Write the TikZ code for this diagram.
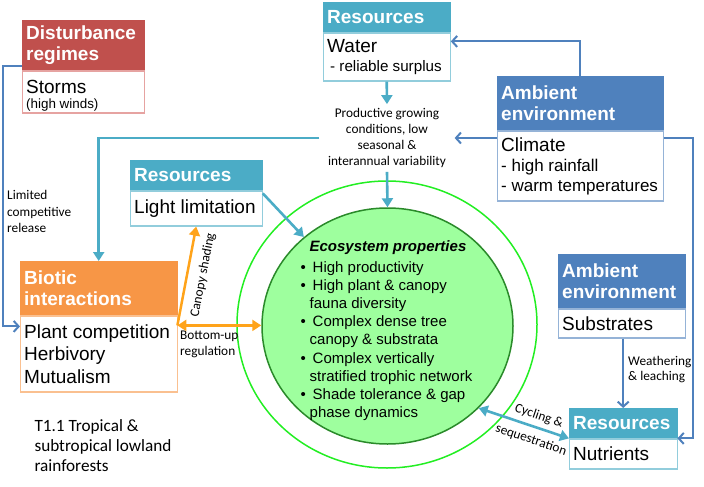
\documentclass[tikz,border=0pt]{standalone}
\usepackage{fontspec}
\setmainfont{Liberation Sans}
\newfontfamily\calib{Carlito}
\usepackage{xcolor}
\usetikzlibrary{arrows.meta,positioning,shapes.geometric,calc}

\definecolor{distred}{HTML}{C0504D}
\definecolor{distredl}{HTML}{E6A3A1}
\definecolor{rescyan}{HTML}{4BACC6}
\definecolor{rescyanl}{HTML}{92CDDC}
\definecolor{ambblue}{HTML}{4F81BD}
\definecolor{ambbluel}{HTML}{95B3D7}
\definecolor{bioorange}{HTML}{F79646}
\definecolor{bioorangel}{HTML}{FAC090}
\definecolor{arrorange}{HTML}{FFA31A}
\definecolor{ecofill}{HTML}{9EFF9E}
\definecolor{ecoline}{HTML}{2A8A2A}
\definecolor{ringline}{HTML}{22EE22}

\tikzset{
  hdr/.style={fill=#1, draw=#1, text=white, font=\fontsize{19}{21}\selectfont\bfseries,
    align=flush left, anchor=north west, inner xsep=4pt, inner ysep=0pt},
  bdy/.style={draw=#1, line width=1.2pt, fill=white, font=\fontsize{19}{22}\selectfont,
    align=flush left, inner xsep=4pt, inner ysep=0pt},
  lbl/.style={font=\calib\fontsize{13.3}{16}\selectfont, inner sep=1pt},
  cyarr/.style={draw=rescyan, line width=2.6pt, -{Triangle[length=9pt,width=11pt]}},
  cyarrr/.style={draw=rescyan, line width=2.6pt, {Triangle[length=9pt,width=11pt]}-{Triangle[length=9pt,width=11pt]}},
  bluarr/.style={draw=ambblue, line width=2pt, -{Straight Barb[length=5pt,width=11pt]}},
  orarr/.style={draw=arrorange, line width=2.5pt, -{Triangle[length=9pt,width=11pt]}},
  orarrr/.style={draw=arrorange, line width=2.5pt, {Triangle[length=9pt,width=11pt]}-{Triangle[length=9pt,width=11pt]}},
}

\begin{document}
\begin{tikzpicture}[x=1pt, y=-1pt]
  \useasboundingbox (0,0) rectangle (704,487);

  % Ecosystem core
  \node[ellipse, draw=ringline, line width=1.5pt, minimum width=300pt, minimum height=287pt] (ring) at (387,324.5) {};
  \node[ellipse, draw=ecoline, fill=ecofill, line width=1.5pt, minimum width=251pt, minimum height=236pt] (eco) at (387.5,326) {};
  \node[font=\fontsize{15}{18}\selectfont\bfseries\itshape] (ecoh) at (388,248) {Ecosystem properties};
  \node[font=\fontsize{15}{18.2}\selectfont, align=flush left, inner sep=0pt, anchor=north] (ecol) at (386.5,261) {%
    \makebox[12pt][l]{\textbullet}High productivity\\
    \makebox[12pt][l]{\textbullet}High plant \& canopy\\
    \hspace*{9pt}fauna diversity\\
    \makebox[12pt][l]{\textbullet}Complex dense tree\\
    \hspace*{9pt}canopy \& substrata\\
    \makebox[12pt][l]{\textbullet}Complex vertically\\
    \hspace*{9pt}stratified trophic network\\
    \makebox[12pt][l]{\textbullet}Shade tolerance \& gap\\
    \hspace*{9pt}phase dynamics};

  % Boxes
  \node[hdr=distred, text width=114pt, minimum height=50pt] (dist) at (22,20) {Disturbance\\regimes};
  \node[bdy=distredl, text width=114pt, minimum height=42pt, below=0pt of dist, font=\fontsize{19}{15}\selectfont] (distb)
    {\rule{0pt}{20pt}Storms\\\fontsize{13.4}{15}\selectfont(high winds)};

  \node[hdr=rescyan, text width=119pt, minimum height=30pt] (water) at (323,2) {Resources};
  \node[bdy=rescyanl, text width=119pt, minimum height=48pt, below=0pt of water, font=\fontsize{19}{19}\selectfont] (waterb)
    {Water\\\fontsize{15.2}{19}\selectfont\hspace*{3pt}- reliable surplus};

  \node[hdr=ambblue, text width=158pt, minimum height=54pt] (clim) at (497,76) {Ambient\\environment};
  \node[bdy=ambbluel, text width=158pt, minimum height=70pt, below=0pt of clim, font=\fontsize{19}{20}\selectfont] (climb)
    {Climate\\\fontsize{17}{20}\selectfont- high rainfall\\- warm temperatures};

  \node[hdr=rescyan, text width=124pt, minimum height=30pt] (light) at (130,160) {Resources};
  \node[bdy=rescyanl, text width=124pt, minimum height=35pt, below=0pt of light] (lightb) {Light limitation};

  \node[hdr=bioorange, text width=149pt, minimum height=54pt] (bio) at (20,261) {Biotic\\interactions};
  \node[bdy=bioorangel, text width=149pt, minimum height=76pt, below=0pt of bio, font=\fontsize{19}{22.5}\selectfont] (biob)
    {Plant competition\\Herbivory\\Mutualism};

  \node[hdr=ambblue, text width=119pt, minimum height=54pt] (sub) at (558,254) {Ambient\\environment};
  \node[bdy=ambbluel, text width=119pt, minimum height=29pt, below=0pt of sub] (subb) {Substrates};

  \node[hdr=rescyan, text width=100pt, minimum height=30pt] (nut) at (569,408) {Resources};
  \node[bdy=rescyanl, text width=100pt, minimum height=30pt, below=0pt of nut] (nutb) {Nutrients};

  % Labels
  \node[lbl, align=flush center, inner xsep=8.5pt, inner ysep=4pt] (prod) at (387,138)
    {Productive growing\\conditions, low\\seasonal \&\\interannual variability};
  \node[lbl, align=flush left, anchor=west, font=\calib\fontsize{13.3}{16.5}\selectfont] (lim) at (6,211.5) {Limited\\competitive\\release};
  \node[lbl, align=flush left, anchor=north west] (bul) at (179,330) {Bottom-up\\regulation};
  \node[lbl, align=flush left, anchor=west, font=\calib\fontsize{13.3}{15}\selectfont] (wea) at (627,369.5) {Weathering\\\& leaching};
  \node[lbl, rotate=79] (can) at (203,275) {Canopy shading};
  \node[lbl, rotate=-18.8] (cyc) at (539,416) {Cycling \&};
  \node[lbl, rotate=-18.8] (seq) at (531,440) {sequestration};
  \node[font=\calib\fontsize{17.2}{20}\selectfont, align=flush left, anchor=west] (title) at (31,446)
    {T1.1 Tropical \&\\subtropical lowland\\rainforests};

  % Connectors
  \draw[cyarr] (waterb.south) -- (prod.north);
  \draw[cyarr] (prod.south) -- (eco.north);
  \draw[cyarr] (prod.west) -| (bio.north);
  \draw[cyarr] ([yshift=-3pt]lightb.north east) -- (eco);
  \draw[bluarr] (climb.west |- prod.east) -- (prod.east);
  \draw[bluarr] (clim.north) |- ([yshift=-9pt]waterb.north east);
  \draw[bluarr] (climb.east |- prod.east) -| ([xshift=16pt]nut.south east) -- (nut.south east);
  \draw[bluarr] ([yshift=4pt]dist.south west) -- ++(-19,0) |- ([yshift=-11pt]bio.south west);
  \draw[bluarr] (nut.north |- subb.south) -- (nut.north);
  \coordinate (bu) at ([yshift=-10pt]bio.south east);
  \draw[orarr] (bu) -- (lightb.south);
  \draw[orarrr] (bu) -- (bu -| eco.west);
  \draw[cyarrr] (eco.-42.5) -- (nut.south west);
\end{tikzpicture}
\end{document}
